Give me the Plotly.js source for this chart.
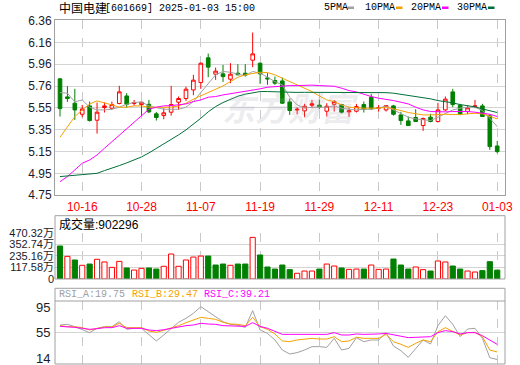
<!DOCTYPE html>
<html><head><meta charset="utf-8">
<script src="https://cdn.plot.ly/plotly-3.0.1.min.js"></script>
<style>html,body{margin:0;padding:0;background:#fff}#chart{width:520px;height:365px}</style>
</head><body><div id="chart"></div>
<script>
const dates = ['10-11','10-14','10-15','10-16','10-17','10-18','10-21','10-22','10-23','10-24','10-25','10-28','10-29','10-30','10-31',
  '11-01','11-04','11-05','11-06','11-07','11-08','11-11','11-12','11-13','11-14','11-15','11-18','11-19','11-20','11-21','11-22','11-25','11-26','11-27','11-28','11-29',
  '12-02','12-03','12-04','12-05','12-06','12-09','12-10','12-11','12-12','12-13','12-16','12-17','12-18','12-19','12-20','12-23','12-24','12-25','12-26','12-27','12-30','12-31',
  '01-02','01-03'];
const openP = [5.822,5.656,5.598,5.496,5.573,5.441,5.558,5.551,5.595,5.665,5.595,5.585,5.588,5.500,5.484,
  5.515,5.607,5.641,5.720,5.788,6.016,5.865,5.868,5.819,5.874,5.874,5.994,5.966,5.831,5.807,5.803,5.610,5.536,5.527,5.579,5.580,
  5.524,5.588,5.585,5.518,5.524,5.585,5.653,5.550,5.536,5.573,5.490,5.435,5.466,5.392,5.469,5.429,5.536,5.702,5.579,5.521,5.567,5.573,
  5.481,5.204];
const highP = [5.830,5.754,5.730,5.582,5.613,5.604,5.604,5.613,5.758,5.690,5.628,5.610,5.628,5.518,5.552,
  5.757,5.660,5.751,5.859,5.972,6.055,5.926,5.951,5.966,5.957,5.957,6.249,5.972,5.874,5.843,5.834,5.640,5.560,5.592,5.628,5.628,
  5.598,5.628,5.592,5.558,5.592,5.613,5.684,5.582,5.576,5.582,5.518,5.475,5.542,5.466,5.500,5.601,5.660,5.730,5.592,5.579,5.628,5.592,
  5.496,5.250];
const lowP = [5.475,5.610,5.444,5.469,5.429,5.318,5.512,5.536,5.588,5.555,5.573,5.481,5.506,5.438,5.450,
  5.484,5.536,5.619,5.671,5.730,5.837,5.813,5.794,5.782,5.856,5.843,5.930,5.776,5.767,5.767,5.592,5.490,5.496,5.469,5.552,5.542,
  5.475,5.521,5.503,5.472,5.512,5.512,5.536,5.521,5.521,5.484,5.398,5.389,5.426,5.343,5.422,5.420,5.527,5.561,5.487,5.496,5.552,5.472,
  5.168,5.137];
const closeP = [5.548,5.641,5.536,5.545,5.438,5.515,5.573,5.585,5.702,5.588,5.604,5.607,5.518,5.466,5.509,
  5.585,5.641,5.727,5.810,5.966,5.930,5.893,5.843,5.865,5.859,5.855,6.052,5.868,5.822,5.782,5.598,5.530,5.542,5.570,5.592,5.562,
  5.570,5.613,5.515,5.527,5.567,5.543,5.546,5.558,5.576,5.496,5.438,5.392,5.429,5.457,5.429,5.536,5.635,5.585,5.500,5.555,5.573,5.475,
  5.198,5.152];
const volWan = [335,230,193,139,152,200,173,118,179,112,91,108,112,101,129,
  254,129,193,223,233,233,142,152,139,152,152,423,244,122,101,142,95,58,81,81,101,
  152,132,112,98,101,101,142,98,101,203,142,101,122,95,81,183,173,132,101,81,71,85,
  176,90.23];
const ma5 = [5.696,5.690,5.610,5.628,5.561,5.536,5.536,5.542,5.561,5.588,5.604,5.610,5.573,5.555,5.542,
  5.542,5.542,5.561,5.613,5.696,5.782,5.859,5.890,5.883,5.865,5.850,5.890,5.874,5.837,5.797,5.767,5.653,5.582,5.552,5.561,5.561,
  5.561,5.573,5.552,5.542,5.536,5.542,5.542,5.552,5.573,5.536,5.500,5.469,5.453,5.444,5.438,5.469,5.505,5.536,5.552,5.561,5.561,5.530,
  5.459,5.383];
const ma10 = [5.284,5.383,5.475,5.536,5.591,5.619,5.604,5.582,5.561,5.561,5.573,5.573,5.561,5.561,5.561,
  5.561,5.573,5.598,5.635,5.665,5.696,5.727,5.757,5.797,5.837,5.859,5.874,5.883,5.880,5.859,5.828,5.797,5.760,5.730,5.705,5.665,
  5.628,5.613,5.582,5.561,5.555,5.552,5.552,5.552,5.561,5.542,5.530,5.512,5.500,5.490,5.490,5.496,5.496,5.493,5.493,5.500,5.505,5.500,
  5.475,5.453];
const ma20 = [4.875,4.922,4.983,5.045,5.075,5.121,5.183,5.244,5.306,5.367,5.429,5.490,5.542,5.561,5.573,
  5.576,5.585,5.591,5.613,5.628,5.653,5.659,5.674,5.684,5.696,5.705,5.721,5.730,5.745,5.751,5.757,5.760,5.760,5.764,5.764,5.760,
  5.757,5.754,5.736,5.714,5.702,5.678,5.659,5.644,5.635,5.622,5.607,5.591,5.561,5.536,5.521,5.518,5.518,5.521,5.524,5.521,5.515,5.505,
  5.496,5.475];
const ma30 = [4.922,4.928,4.934,4.937,4.940,4.952,4.977,4.998,5.023,5.048,5.075,5.103,5.140,5.180,5.223,
  5.266,5.306,5.352,5.404,5.459,5.518,5.567,5.604,5.635,5.662,5.681,5.696,5.705,5.705,5.702,5.699,5.697,5.697,5.698,5.698,5.698,
  5.697,5.697,5.697,5.696,5.696,5.696,5.696,5.695,5.695,5.690,5.681,5.671,5.662,5.650,5.638,5.622,5.613,5.601,5.585,5.576,5.564,5.545,
  5.527,5.512];
const rsiA = [64.1,65.0,62.0,58.6,54.3,59.9,62.0,62.0,68.4,58.6,59.9,59.9,51.3,43.6,51.3,
  59.9,67.6,72.7,79.1,87.7,81.3,75.7,68.4,65.0,63.7,61.1,82.6,57.7,53.4,44.9,32.0,26.9,28.6,32.0,36.3,36.3,
  35.4,47.0,32.0,34.1,47.9,42.7,44.9,44.9,54.3,37.1,31.1,22.6,34.1,44.9,39.7,63.3,76.1,65.0,49.1,59.0,59.9,47.0,
  22.1,19.75];
const rsiB = [63.3,62.0,62.0,60.7,57.7,59.9,61.6,61.6,66.3,60.7,60.7,60.7,56.4,54.7,57.3,
  59.9,63.3,67.1,70.6,74.0,72.7,71.4,67.6,65.4,65.0,63.3,74.0,62.0,58.6,52.6,43.6,42.7,44.9,46.1,47.0,46.1,
  46.1,49.1,42.7,43.6,48.3,47.0,47.0,47.0,52.1,42.7,39.3,35.4,40.6,44.9,42.7,55.6,60.7,55.6,51.3,54.3,54.7,49.1,
  32.0,29.47];
const rsiC = [62.4,62.0,61.1,59.9,58.6,59.4,60.7,60.7,63.3,59.9,59.9,59.9,57.7,56.9,58.1,
  59.9,61.6,63.3,64.1,66.3,65.4,65.0,63.3,63.3,63.3,62.4,67.1,62.4,59.9,55.6,52.1,52.1,52.1,52.1,52.1,52.1,
  52.1,54.3,51.3,51.3,52.6,52.1,52.1,52.6,53.4,51.3,49.1,47.9,48.3,49.1,49.1,54.3,56.9,55.6,52.6,54.3,54.3,50.4,
  44.9,39.21];
const dateTicks = ['10-16','10-28','11-07','11-19','11-29','12-11','12-23','01-03'];
const priceTickVals = [4.75,4.95125,5.1525,5.35375,5.555,5.75625,5.9575,6.15875,6.36];
const priceTickText = ['4.75','4.95','5.15','5.35','5.55','5.76','5.96','6.16','6.36'];
const volTickVals = [0,117.58,235.16,352.74,470.32];
const volTickText = ['0','117.58万','235.16万','352.74万','470.32万'];
const rsiTickVals = [95,55,14];
const stockName = '中国电建';
const stockInfo = '[601669] 2025-01-03 15:00';
const lastVolume = 902296;
const maNames = ['5PMA','10PMA','20PMA','30PMA'];

const RED='#ff0000', GREEN='#008000', BORDER='#a0a0a0', GRID='#d4d4d4';
const maColors = ['#a0a0a0','#f5a200','#ff00ff','#00703a'];
const PX = x => (x-55)/450;
const PY = y => 1-(y-20)/344;

const volColors = closeP.map((c,i)=> (i===0 ? c>=openP[0] : c>=closeP[i-1]) ? RED : GREEN);
const volFill = volColors.map(c => c===RED ? '#ffffff' : GREEN);

const traces = [
  {type:'candlestick', x:dates, open:openP, high:highP, low:lowP, close:closeP, xaxis:'x', yaxis:'y',
   increasing:{line:{color:RED,width:1}, fillcolor:'#ffffff'},
   decreasing:{line:{color:GREEN,width:1}, fillcolor:GREEN}, whiskerwidth:0, hoverinfo:'skip', showlegend:false},
];
[ma5,ma10,ma20,ma30].forEach((m,k)=>traces.push({type:'scatter',mode:'lines',x:dates,y:m,xaxis:'x',yaxis:'y',
  line:{color:maColors[k],width:1},hoverinfo:'skip',showlegend:false}));
traces.push({type:'bar', x:dates, y:volWan, xaxis:'x2', yaxis:'y2', width:0.7,
  marker:{color:volFill, line:{color:volColors,width:1}}, hoverinfo:'skip', showlegend:false});
[[rsiA,'#a0a0a0'],[rsiB,'#f5a200'],[rsiC,'#ff00ff']].forEach(([r,c])=>traces.push({type:'scatter',mode:'lines',x:dates,y:r,
  xaxis:'x3',yaxis:'y3',line:{color:c,width:1},hoverinfo:'skip',showlegend:false}));

const xRange = [-0.675, 60.05];
const xBase = {type:'category', range:xRange, tickvals:dateTicks, ticktext:dateTicks, showgrid:true, gridcolor:'#c8c8c8',
  griddash:'dash', gridwidth:1, zeroline:false, fixedrange:true, ticks:''};
const tickFont = {family:'Liberation Sans, Arial, sans-serif', size:12, color:'#1a1a2a'};

const annotations = [];
const shapes = [];
annotations.push({xref:'paper',yref:'paper',x:PX(57),y:PY(8),xanchor:'left',yanchor:'middle',showarrow:false,
  text:stockName,font:{family:'Noto Sans CJK SC',size:12,color:'#000'}});
annotations.push({xref:'paper',yref:'paper',x:PX(103),y:PY(8.5),xanchor:'left',yanchor:'middle',showarrow:false,
  text:stockInfo,font:{family:'Liberation Mono, monospace',size:10,color:'#000'}});
const legX = [321.5,363,409,455], dashX=[347.5,396,442,488];
maNames.forEach((n,k)=>{
  annotations.push({xref:'paper',yref:'paper',x:PX(legX[k]),y:PY(8),xanchor:'left',yanchor:'middle',showarrow:false,
    text:n,font:{family:'Liberation Mono, monospace',size:10,color:'#000'}});
  shapes.push({type:'rect',xref:'paper',yref:'paper',x0:PX(dashX[k]),x1:PX(dashX[k]+6.5),y0:PY(9),y1:PY(6.5),
    fillcolor:maColors[k],line:{width:0}});
});
annotations.push({xref:'paper',yref:'paper',x:PX(290),y:PY(107),xanchor:'center',yanchor:'middle',showarrow:false,
  text:'<i><b>东方财富</b></i>',font:{family:'Noto Sans CJK SC',size:33,color:'rgba(170,170,185,0.22)'}});
annotations.push({xref:'paper',yref:'paper',x:PX(57),y:PY(224),xanchor:'left',yanchor:'middle',showarrow:false,
  text:'成交量:'+lastVolume,font:{family:'Liberation Sans, Noto Sans CJK SC',size:12,color:'#000'}});
const rsiHdr = [['RSI_A:'+rsiA[59].toFixed(2),'#a0a0a0',57],['RSI_B:'+rsiB[59].toFixed(2),'#f5a200',130],['RSI_C:'+rsiC[59].toFixed(2),'#ff00ff',202]];
rsiHdr.forEach(([t,c,x])=>annotations.push({xref:'paper',yref:'paper',x:PX(x),y:PY(294.5),xanchor:'left',yanchor:'middle',showarrow:false,
  text:t,font:{family:'Liberation Mono, monospace',size:10,color:c}}));
const rsiShift = [-6,0,6];
rsiTickVals.forEach((v,k)=>annotations.push({xref:'paper',yref:'y3',x:0,y:v,xanchor:'right',yanchor:'middle',xshift:-3,yshift:rsiShift[k],
  showarrow:false,text:String(v),font:{family:'Liberation Sans, Arial, sans-serif',size:13,color:'#1a1a2a'}}));
shapes.push({type:'rect',xref:'paper',yref:'paper',x0:0,x1:1,y0:PY(279),y1:PY(215.7),line:{color:BORDER,width:1}});
shapes.push({type:'rect',xref:'paper',yref:'paper',x0:0,x1:1,y0:PY(364),y1:PY(288.3),line:{color:BORDER,width:1}});
shapes.push({type:'line',xref:'paper',yref:'paper',x0:0,x1:1,y0:PY(301),y1:PY(301),line:{color:BORDER,width:1}});

const layout = {
  width:520, height:365, margin:{l:55,r:15,t:20,b:1}, paper_bgcolor:'#fff', plot_bgcolor:'#fff', showlegend:false,
  xaxis:Object.assign({}, xBase, {anchor:'y', showticklabels:true, tickfont:{family:'Liberation Sans, Arial, sans-serif',size:12,color:RED},
    showline:true, mirror:true, linecolor:BORDER, rangeslider:{visible:false}}),
  yaxis:{domain:[PY(195.25),PY(20.45)], range:[4.75,6.36], tickvals:priceTickVals, ticktext:priceTickText, gridcolor:GRID,
    showline:true, mirror:true, linecolor:BORDER, zeroline:false, fixedrange:true, tickfont:tickFont, ticks:''},
  xaxis2:Object.assign({}, xBase, {anchor:'y2', showticklabels:false}),
  yaxis2:{domain:[PY(279),PY(232.7)], range:[0,470.32], tickvals:volTickVals, ticktext:volTickText, gridcolor:GRID,
    zeroline:false, fixedrange:true, tickfont:{family:'Liberation Sans, Noto Sans CJK SC', size:11, color:'#1a1a2a'}, ticks:''},
  xaxis3:Object.assign({}, xBase, {anchor:'y3', showticklabels:false}),
  yaxis3:{domain:[0,PY(301)], range:[14,95], tickvals:[55], showticklabels:false, gridcolor:GRID, zeroline:false, fixedrange:true, ticks:''},
  annotations, shapes, boxgap:0.3
};
Plotly.newPlot('chart', traces, layout, {staticPlot:true, displayModeBar:false});
</script></body></html>
